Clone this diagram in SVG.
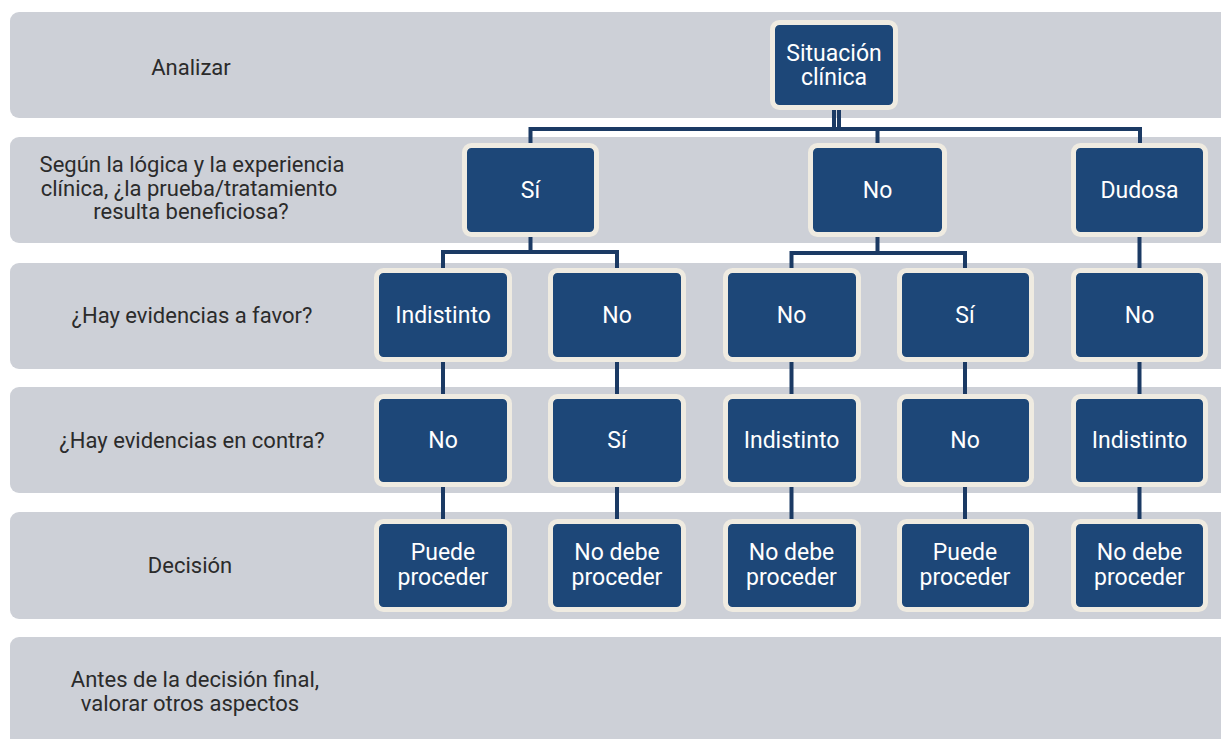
<svg xmlns="http://www.w3.org/2000/svg" width="1221" height="739" viewBox="0 0 1221 739">
<style>
.band{fill:#cdd0d7}
.lbl{font-family:Roboto,"Liberation Sans",sans-serif;font-size:22px;fill:#2b2b2b;text-anchor:middle}
.box{fill:#1d4778;stroke:#efebe1;stroke-width:5}
.nt{font-family:Roboto,"Liberation Sans",sans-serif;font-size:23px;fill:#ffffff;text-anchor:middle}
.con{fill:none;stroke:#1b3a64;stroke-width:4}
</style>
<rect width="1221" height="739" fill="#ffffff"/>
<g id="bands">
<rect class="band" x="10" y="12" width="1225" height="106" rx="9"/>
<rect class="band" x="10" y="137" width="1225" height="106" rx="9"/>
<rect class="band" x="10" y="263" width="1225" height="106" rx="9"/>
<rect class="band" x="10" y="387" width="1225" height="106" rx="9"/>
<rect class="band" x="10" y="512" width="1225" height="107" rx="9"/>
<rect class="band" x="10" y="637" width="1225" height="120" rx="9"/>
</g>
<g id="row-labels">
<text class="lbl" x="191" y="75">Analizar</text>
<text class="lbl" x="192" y="172">Según la lógica y la experiencia</text>
<text class="lbl" x="189" y="195.5">clínica, ¿la prueba/tratamiento</text>
<text class="lbl" x="191" y="219">resulta beneficiosa?</text>
<text class="lbl" x="192" y="323">¿Hay evidencias a favor?</text>
<text class="lbl" x="192" y="448">¿Hay evidencias en contra?</text>
<text class="lbl" x="190" y="573">Decisión</text>
<text class="lbl" x="195" y="687">Antes de la decisión final,</text>
<text class="lbl" x="190" y="710.5">valorar otros aspectos</text>
</g>
<g id="connectors">
<path class="con" d="M834,108 V129 M839,108 V129"/>
<path class="con" d="M530.5,145 V129 H1140 V145 M877.5,129 V145"/>
<path class="con" d="M530.5,235 V252 M443,270 V252 H617 V270"/>
<path class="con" d="M877.5,235 V253 M791.5,270 V253 H965 V270"/>
<path class="con" d="M1139.5,235 V270"/>
<path class="con" d="M443,360 V396 M617,360 V396 M791.5,360 V396 M965,360 V396 M1139.5,360 V396"/>
<path class="con" d="M443,485 V521 M617,485 V521 M791.5,485 V521 M965,485 V521 M1139.5,485 V521"/>
</g>
<g id="n-situacion"><rect class="box" x="772.5" y="22.5" width="123" height="85" rx="7"/><text class="nt" x="834" y="60.5">Situación</text><text class="nt" x="834" y="85">clínica</text></g>
<g id="n-si"><rect class="box" x="464.5" y="145.5" width="132" height="89" rx="7"/><text class="nt" x="530.5" y="198">Sí</text></g>
<g id="n-no"><rect class="box" x="810.5" y="145.5" width="134" height="89" rx="7"/><text class="nt" x="877.5" y="198">No</text></g>
<g id="n-dudosa"><rect class="box" x="1073.5" y="145.5" width="132" height="89" rx="7"/><text class="nt" x="1139.5" y="198">Dudosa</text></g>
<g id="n-r3c1"><rect class="box" x="376.5" y="270.5" width="133" height="89" rx="7"/><text class="nt" x="443" y="323">Indistinto</text></g>
<g id="n-r3c2"><rect class="box" x="550.5" y="270.5" width="133" height="89" rx="7"/><text class="nt" x="617" y="323">No</text></g>
<g id="n-r3c3"><rect class="box" x="725.5" y="270.5" width="133" height="89" rx="7"/><text class="nt" x="791.5" y="323">No</text></g>
<g id="n-r3c4"><rect class="box" x="899.5" y="270.5" width="132" height="89" rx="7"/><text class="nt" x="965" y="323">Sí</text></g>
<g id="n-r3c5"><rect class="box" x="1073.5" y="270.5" width="132" height="89" rx="7"/><text class="nt" x="1139.5" y="323">No</text></g>
<g id="n-r4c1"><rect class="box" x="376.5" y="396.5" width="133" height="88" rx="7"/><text class="nt" x="443" y="448">No</text></g>
<g id="n-r4c2"><rect class="box" x="550.5" y="396.5" width="133" height="88" rx="7"/><text class="nt" x="617" y="448">Sí</text></g>
<g id="n-r4c3"><rect class="box" x="725.5" y="396.5" width="133" height="88" rx="7"/><text class="nt" x="791.5" y="448">Indistinto</text></g>
<g id="n-r4c4"><rect class="box" x="899.5" y="396.5" width="132" height="88" rx="7"/><text class="nt" x="965" y="448">No</text></g>
<g id="n-r4c5"><rect class="box" x="1073.5" y="396.5" width="132" height="88" rx="7"/><text class="nt" x="1139.5" y="448">Indistinto</text></g>
<g id="n-r5c1"><rect class="box" x="376.5" y="521.5" width="133" height="88" rx="7"/><text class="nt" x="443" y="560">Puede</text><text class="nt" x="443" y="585">proceder</text></g>
<g id="n-r5c2"><rect class="box" x="550.5" y="521.5" width="133" height="88" rx="7"/><text class="nt" x="617" y="560">No debe</text><text class="nt" x="617" y="585">proceder</text></g>
<g id="n-r5c3"><rect class="box" x="725.5" y="521.5" width="133" height="88" rx="7"/><text class="nt" x="791.5" y="560">No debe</text><text class="nt" x="791.5" y="585">proceder</text></g>
<g id="n-r5c4"><rect class="box" x="899.5" y="521.5" width="132" height="88" rx="7"/><text class="nt" x="965" y="560">Puede</text><text class="nt" x="965" y="585">proceder</text></g>
<g id="n-r5c5"><rect class="box" x="1073.5" y="521.5" width="132" height="88" rx="7"/><text class="nt" x="1139.5" y="560">No debe</text><text class="nt" x="1139.5" y="585">proceder</text></g>
</svg>
